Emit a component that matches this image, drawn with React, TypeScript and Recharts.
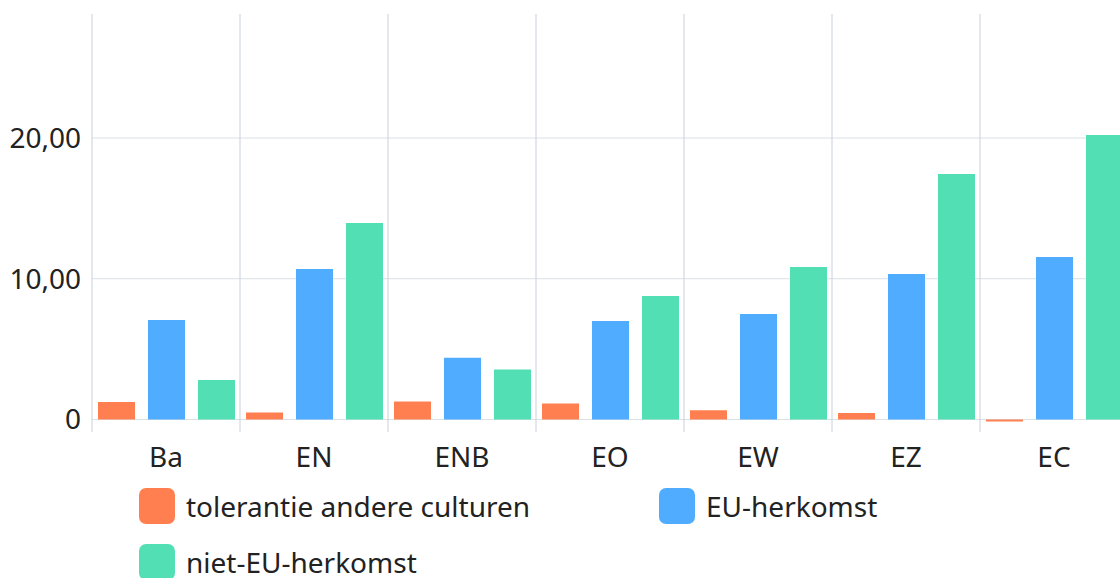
import React from 'react';
import { BarChart, Bar, XAxis, YAxis, CartesianGrid, Legend } from 'recharts';

const categories = ['Ba', 'EN', 'ENB', 'EO', 'EW', 'EZ', 'EC'];
const tolerantie = [1.25, 0.5, 1.27, 1.14, 0.65, 0.46, -0.15];
const euHerkomst = [7.07, 10.69, 4.38, 7.0, 7.5, 10.34, 11.55];
const nietEuHerkomst = [2.8, 13.96, 3.55, 8.77, 10.83, 17.44, 20.21];
const yTicks = [0, 10, 20];

const seriesNames = ['tolerantie andere culturen', 'EU-herkomst', 'niet-EU-herkomst'];
const seriesColors = ['#ff7f50', '#4facfe', '#53dfb4'];

const Y_MIN = -0.89;
const Y_MAX = 28.81;

const data = categories.map((c, i) => ({
  name: c,
  tol: tolerantie[i],
  eu: euHerkomst[i],
  niet: nietEuHerkomst[i],
}));

const FONT = '"Noto Sans", "Open Sans", sans-serif';

const fmt = (v: number) => (v === 0 ? '0' : v.toFixed(2).replace('.', ','));

const LegendContent = () => (
  <div
    style={{
      display: 'grid',
      gridTemplateColumns: '520px 440px',
      paddingLeft: 139,
      width: 1120,
      height: 100,
      boxSizing: 'border-box',
      fontFamily: FONT,
    }}
  >
    {seriesNames.map((n, i) => (
      <div
        key={n}
        style={{ height: 56, display: 'flex', alignItems: 'center' }}
      >
        <div
          style={{
            width: 36,
            height: 36,
            borderRadius: 7,
            background: seriesColors[i],
            marginRight: 11,
            flexShrink: 0,
          }}
        />
        <span style={{ fontSize: 28, color: '#222', whiteSpace: 'nowrap' }}>{n}</span>
      </div>
    ))}
  </div>
);

export default function App() {
  return (
    <div
      style={{
        position: 'absolute',
        left: 0,
        top: 0,
        width: 1120,
        height: 578,
        overflow: 'hidden',
        background: '#fff',
      }}
    >
      <BarChart
        width={1140}
        height={578}
        data={data}
        margin={{ top: 14, right: 12, left: 0, bottom: 0 }}
        barCategoryGap={6}
        barGap={13}
      >
        <CartesianGrid
          stroke="#dbe0e7"
          vertical={false}
          horizontalCoordinatesGenerator={(props: any) => {
            const off = props.offset;
            return yTicks.map(
              (v) => off.top + ((Y_MAX - v) / (Y_MAX - Y_MIN)) * off.height
            );
          }}
        />
        <CartesianGrid
          stroke="#c9d1dc"
          horizontal={false}
          verticalCoordinatesGenerator={(props: any) => {
            const off = props.offset;
            const band = off.width / categories.length;
            const arr: number[] = [];
            for (let i = 0; i <= categories.length; i++) arr.push(off.left + i * band);
            return arr;
          }}
        />
        <XAxis
          dataKey="name"
          axisLine={false}
          tickLine={false}
          tickSize={0}
          tickMargin={15}
          height={46}
          interval={0}
          tick={{ fontSize: 28, fill: '#222', fontFamily: FONT }}
        />
        <YAxis
          width={92}
          domain={[Y_MIN, Y_MAX]}
          allowDataOverflow
          ticks={yTicks}
          tickFormatter={fmt}
          axisLine={false}
          tickLine={false}
          tickSize={0}
          tickMargin={11}
          tick={{ fontSize: 28, fill: '#222', fontFamily: FONT }}
        />
        <Legend
          verticalAlign="bottom"
          content={<LegendContent />}
          wrapperStyle={{ height: 100, width: 1120, left: 0 }}
        />
        <Bar dataKey="tol" name={seriesNames[0]} fill={seriesColors[0]} isAnimationActive={false} />
        <Bar dataKey="eu" name={seriesNames[1]} fill={seriesColors[1]} isAnimationActive={false} />
        <Bar dataKey="niet" name={seriesNames[2]} fill={seriesColors[2]} isAnimationActive={false} />
      </BarChart>
    </div>
  );
}
